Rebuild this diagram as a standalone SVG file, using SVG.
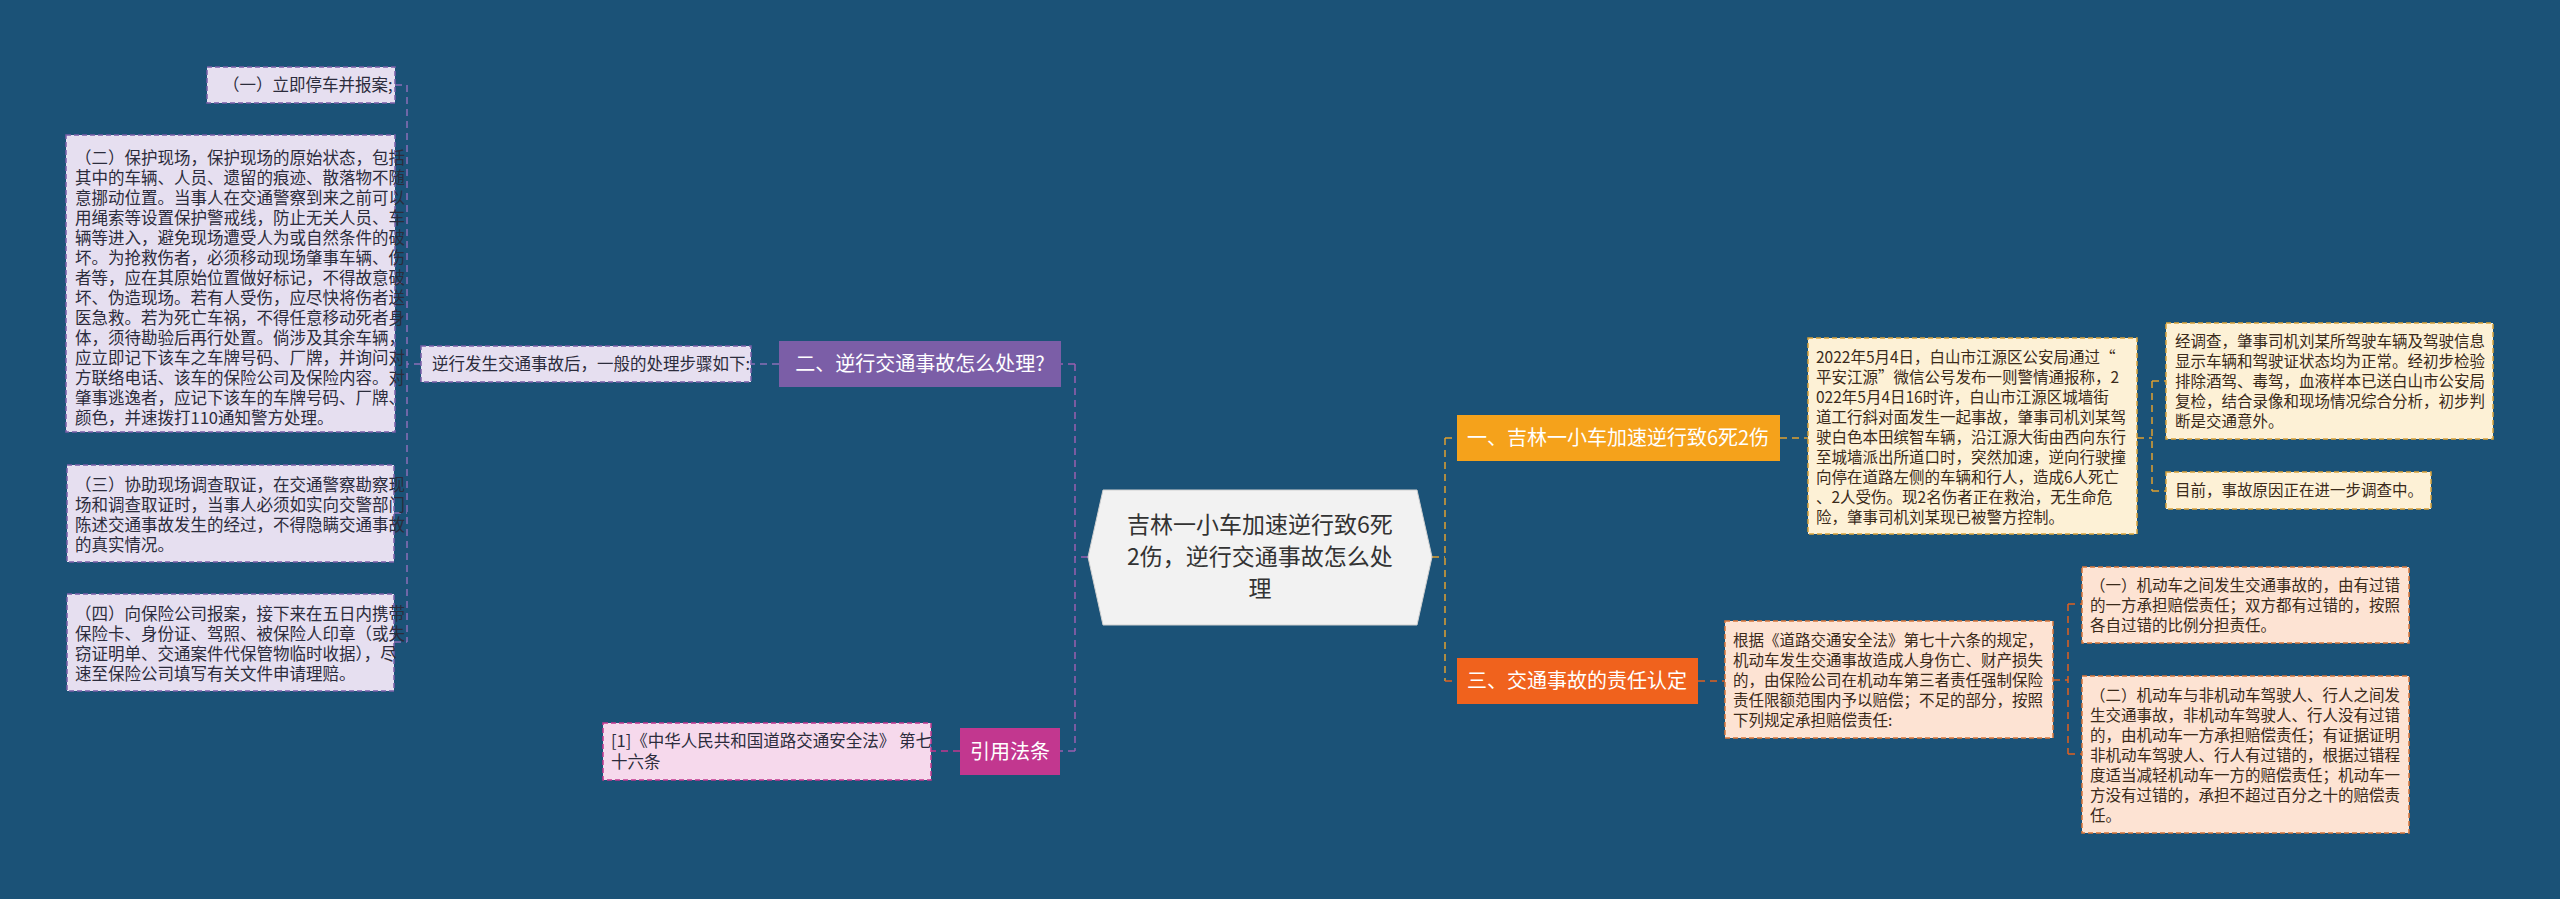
<svg xmlns="http://www.w3.org/2000/svg" width="2560" height="899" viewBox="0 0 2560 899">
<style>
text{font-family:"Noto Sans CJK SC","Liberation Sans",sans-serif}
.lb{fill:#e6dff0;stroke:#7a5fa8;stroke-width:1.5;stroke-dasharray:5,3}
.lt{font-size:16.5px;fill:#2c2c3c}
.yb{fill:#fdf1d6;stroke:#d9a23a;stroke-width:1.5;stroke-dasharray:5,3}
.pb{fill:#fde3d3;stroke:#d9763a;stroke-width:1.5;stroke-dasharray:5,3}
.rt{font-size:15.5px;fill:#3a2a1a}
.c{fill:none;stroke-width:1.5;stroke-dasharray:7,5}
</style>
<rect width="2560" height="899" fill="#1b5277"/>
<g id="connectors">
<path class="c" stroke="#9a5fb0" d="M1088 557H1075M1075 364V751M1075 364H1061M1075 751H1060"/>
<path class="c" stroke="#8a6fb8" d="M779 364H751M421 364H407M407 85V642M395 85H407M395 283H407M394 513H407M394 642H407"/>
<path class="c" stroke="#c2378f" d="M960 751H931"/>
<path class="c" stroke="#e0a030" d="M1432 557H1445M1445 438V681M1445 438H1457M1780 438H1808M2137 438H2152M2152 381V491M2152 381H2166M2152 491H2166"/>
<path class="c" stroke="#e06020" d="M1445 681H1457M1698 681H1725M2053 680H2068M2068 604V754M2068 604H2082M2068 754H2082"/>
</g>
<g id="center">
<polygon points="1103,490 1417,490 1432,557 1417,625 1103,625 1088,557" fill="#f2f2f2" stroke="#d0d0d0"/>
<text font-size="23" fill="#333" text-anchor="middle"><tspan x="1260" y="533">吉林一小车加速逆行致6死</tspan><tspan x="1260" y="565">2伤，逆行交通事故怎么处</tspan><tspan x="1260" y="597">理</tspan></text>
</g>
<g id="n2"><rect x="779" y="341" width="282" height="46" fill="#7b5ea7"/><text x="920" y="371" font-size="20" fill="#fff" text-anchor="middle">二、逆行交通事故怎么处理?</text></g>
<g id="n2t"><rect x="421" y="346" width="330" height="36" class="lb"/><text x="432" y="370" class="lt">逆行发生交通事故后，一般的处理步骤如下:</text></g>
<g id="l1"><rect x="207" y="67" width="188" height="36" class="lb"/><text x="223" y="91" class="lt">（一）立即停车并报案;</text></g>
<g id="l2"><rect x="66" y="135" width="329" height="297" class="lb"/><text class="lt"><tspan x="75" y="164">（二）保护现场，保护现场的原始状态，包括</tspan><tspan x="75" y="184">其中的车辆、人员、遗留的痕迹、散落物不随</tspan><tspan x="75" y="204">意挪动位置。当事人在交通警察到来之前可以</tspan><tspan x="75" y="224">用绳索等设置保护警戒线，防止无关人员、车</tspan><tspan x="75" y="244">辆等进入，避免现场遭受人为或自然条件的破</tspan><tspan x="75" y="264">坏。为抢救伤者，必须移动现场肇事车辆、伤</tspan><tspan x="75" y="284">者等，应在其原始位置做好标记，不得故意破</tspan><tspan x="75" y="304">坏、伪造现场。若有人受伤，应尽快将伤者送</tspan><tspan x="75" y="324">医急救。若为死亡车祸，不得任意移动死者身</tspan><tspan x="75" y="344">体，须待勘验后再行处置。倘涉及其余车辆，</tspan><tspan x="75" y="364">应立即记下该车之车牌号码、厂牌，并询问对</tspan><tspan x="75" y="384">方联络电话、该车的保险公司及保险内容。对</tspan><tspan x="75" y="404">肇事逃逸者，应记下该车的车牌号码、厂牌、</tspan><tspan x="75" y="424">颜色，并速拨打110通知警方处理。</tspan></text></g>
<g id="l3"><rect x="67" y="465" width="327" height="97" class="lb"/><text class="lt"><tspan x="75" y="491">（三）协助现场调查取证，在交通警察勘察现</tspan><tspan x="75" y="511">场和调查取证时，当事人必须如实向交警部门</tspan><tspan x="75" y="531">陈述交通事故发生的经过，不得隐瞒交通事故</tspan><tspan x="75" y="551">的真实情况。</tspan></text></g>
<g id="l4"><rect x="67" y="594" width="327" height="97" class="lb"/><text class="lt"><tspan x="75" y="620">（四）向保险公司报案，接下来在五日内携带</tspan><tspan x="75" y="640">保险卡、身份证、驾照、被保险人印章（或失</tspan><tspan x="75" y="660">窃证明单、交通案件代保管物临时收据），尽</tspan><tspan x="75" y="680">速至保险公司填写有关文件申请理赔。</tspan></text></g>
<g id="ref"><rect x="960" y="728" width="100" height="47" fill="#c2378f"/><text x="1010" y="759" font-size="20" fill="#fff" text-anchor="middle">引用法条</text></g>
<g id="reft"><rect x="603" y="723" width="328" height="57" fill="#f6d9ec" stroke="#c2378f" stroke-width="1.5" stroke-dasharray="5,3"/><text class="lt"><tspan x="611" y="747">[1]《中华人民共和国道路交通安全法》 第七</tspan><tspan x="611" y="768">十六条</tspan></text></g>
<g id="n1"><rect x="1457" y="415" width="323" height="46" fill="#f5a21b"/><text x="1618" y="445" font-size="20" fill="#fff" text-anchor="middle">一、吉林一小车加速逆行致6死2伤</text></g>
<g id="n1t"><rect x="1808" y="338" width="329" height="196" class="yb"/><text class="rt"><tspan x="1816" y="363">2022年5月4日，白山市江源区公安局通过“</tspan><tspan x="1816" y="383">平安江源”微信公号发布一则警情通报称，2</tspan><tspan x="1816" y="403">022年5月4日16时许，白山市江源区城墙街</tspan><tspan x="1816" y="423">道工行斜对面发生一起事故，肇事司机刘某驾</tspan><tspan x="1816" y="443">驶白色本田缤智车辆，沿江源大街由西向东行</tspan><tspan x="1816" y="463">至城墙派出所道口时，突然加速，逆向行驶撞</tspan><tspan x="1816" y="483">向停在道路左侧的车辆和行人，造成6人死亡</tspan><tspan x="1816" y="503">、2人受伤。现2名伤者正在救治，无生命危</tspan><tspan x="1816" y="523">险，肇事司机刘某现已被警方控制。</tspan></text></g>
<g id="r1"><rect x="2166" y="323" width="327" height="116" class="yb"/><text class="rt"><tspan x="2175" y="347">经调查，肇事司机刘某所驾驶车辆及驾驶信息</tspan><tspan x="2175" y="367">显示车辆和驾驶证状态均为正常。经初步检验</tspan><tspan x="2175" y="387">排除酒驾、毒驾，血液样本已送白山市公安局</tspan><tspan x="2175" y="407">复检，结合录像和现场情况综合分析，初步判</tspan><tspan x="2175" y="427">断是交通意外。</tspan></text></g>
<g id="r2"><rect x="2166" y="472" width="265" height="37" class="yb"/><text x="2175" y="496" class="rt">目前，事故原因正在进一步调查中。</text></g>
<g id="n3"><rect x="1457" y="658" width="241" height="46" fill="#f0621d"/><text x="1577" y="688" font-size="20" fill="#fff" text-anchor="middle">三、交通事故的责任认定</text></g>
<g id="n3t"><rect x="1725" y="621" width="328" height="117" class="pb"/><text class="rt"><tspan x="1733" y="646">根据《道路交通安全法》第七十六条的规定，</tspan><tspan x="1733" y="666">机动车发生交通事故造成人身伤亡、财产损失</tspan><tspan x="1733" y="686">的，由保险公司在机动车第三者责任强制保险</tspan><tspan x="1733" y="706">责任限额范围内予以赔偿；不足的部分，按照</tspan><tspan x="1733" y="726">下列规定承担赔偿责任:</tspan></text></g>
<g id="r3"><rect x="2082" y="567" width="327" height="76" class="pb"/><text class="rt"><tspan x="2090" y="591">（一）机动车之间发生交通事故的，由有过错</tspan><tspan x="2090" y="611">的一方承担赔偿责任；双方都有过错的，按照</tspan><tspan x="2090" y="631">各自过错的比例分担责任。</tspan></text></g>
<g id="r4"><rect x="2082" y="676" width="327" height="157" class="pb"/><text class="rt"><tspan x="2090" y="701">（二）机动车与非机动车驾驶人、行人之间发</tspan><tspan x="2090" y="721">生交通事故，非机动车驾驶人、行人没有过错</tspan><tspan x="2090" y="741">的，由机动车一方承担赔偿责任；有证据证明</tspan><tspan x="2090" y="761">非机动车驾驶人、行人有过错的，根据过错程</tspan><tspan x="2090" y="781">度适当减轻机动车一方的赔偿责任；机动车一</tspan><tspan x="2090" y="801">方没有过错的，承担不超过百分之十的赔偿责</tspan><tspan x="2090" y="821">任。</tspan></text></g>
</svg>
